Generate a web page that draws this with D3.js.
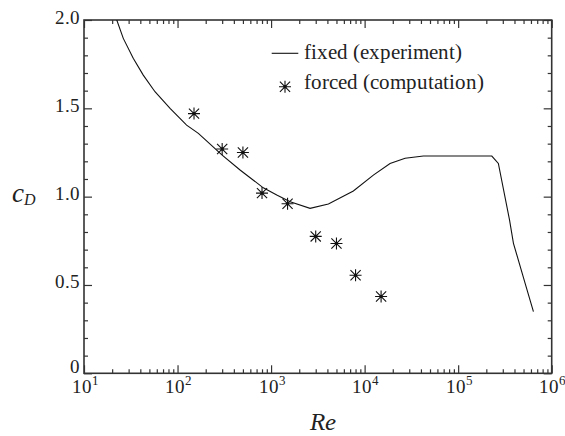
<!DOCTYPE html>
<html>
<head>
<meta charset="utf-8">
<script src="https://cdn.jsdelivr.net/npm/d3@7"></script>
<style>
	@font-face { font-family: 'FigSerif'; font-style: normal; src: local('Liberation Serif'), local('LiberationSerif'); }
	@font-face { font-family: 'FigSerif'; font-style: italic; src: local('Liberation Serif Italic'), local('LiberationSerif-Italic'); }
</style>
</head>
<body style="margin:0">
<div id="fig"></div>
<script>
// fixed cylinder, experiment (Re, cD)
const fixedRe = [22.4, 26.3, 33.6, 43, 57.4, 83.2, 125, 167, 300, 466, 826, 1150, 1600, 2610, 4100, 7580, 12400, 18700, 27100, 42500, 229000, 269000, 354000, 390000, 520000, 638000];
const fixedCd = [2.0, 1.896, 1.783, 1.688, 1.594, 1.5, 1.405, 1.358, 1.235, 1.151, 1.05, 1.009, 0.971, 0.934, 0.958, 1.032, 1.122, 1.188, 1.217, 1.23, 1.23, 1.188, 0.868, 0.736, 0.509, 0.349];

// forced cylinder, computation
const forcedRe = [150, 300, 500, 800, 1500, 3000, 5000, 8000, 15000];
const forcedCd = [1.47, 1.27, 1.25, 1.02, 0.96, 0.775, 0.735, 0.555, 0.435];

const xMajor = [1e1, 1e2, 1e3, 1e4, 1e5, 1e6];
const yMajor = [0, 0.5, 1.0, 1.5, 2.0];
const legendLabels = ['fixed (experiment)', 'forced (computation)'];

const margin = { left: 84, right: 13.3, top: 20, bottom: 62.7 };
const W = 565, H = 436;
const fontStack = "FigSerif, 'Liberation Serif', 'Times New Roman', serif";

const svg = d3.select('#fig').append('svg').attr('width', W).attr('height', H);

const x = d3.scaleLog().domain([10, 1e6]).range([margin.left, W - margin.right]);
const y = d3.scaleLinear().domain([0, 2]).range([H - margin.bottom, margin.top]);

const xMinor = [];
xMajor.slice(0, -1).forEach((d) => {
	for (let k = 2; k <= 9; k++) xMinor.push(d * k);
});
const yMinor = d3.range(0, 2.01, 0.1).map((v) => +v.toFixed(1)).filter((v) => !yMajor.includes(v));

const frameColor = '#333';
const textColor = '#222';
const plotB = H - margin.bottom, plotT = margin.top, plotL = margin.left, plotR = W - margin.right;

// ticks only, all pointing inward (labels are drawn by hand below)
function drawTicks(axis, transform) {
	svg.append('g')
		.attr('transform', transform)
		.call(axis)
		.call((g) => g.select('.domain').remove())
		.call((g) => g.selectAll('line').attr('stroke', frameColor).attr('stroke-width', 1.2))
		.call((g) => g.selectAll('text').remove());
}

drawTicks(d3.axisBottom(x).tickValues(xMajor).tickSize(-8), `translate(0,${plotB})`);
drawTicks(d3.axisBottom(x).tickValues(xMinor).tickSize(-4), `translate(0,${plotB})`);
drawTicks(d3.axisTop(x).tickValues(xMajor).tickSize(-8), `translate(0,${plotT})`);
drawTicks(d3.axisTop(x).tickValues(xMinor).tickSize(-4), `translate(0,${plotT})`);
drawTicks(d3.axisLeft(y).tickValues(yMajor).tickSize(-8), `translate(${plotL},0)`);
drawTicks(d3.axisLeft(y).tickValues(yMinor).tickSize(-4), `translate(${plotL},0)`);
drawTicks(d3.axisRight(y).tickValues(yMajor).tickSize(-8), `translate(${plotR},0)`);
drawTicks(d3.axisRight(y).tickValues(yMinor).tickSize(-4), `translate(${plotR},0)`);

// frame
svg.append('rect')
	.attr('x', plotL).attr('y', plotT)
	.attr('width', plotR - plotL).attr('height', plotB - plotT)
	.attr('fill', 'none').attr('stroke', frameColor).attr('stroke-width', 1.6);

// y tick labels
svg.append('g').selectAll('text')
	.data(yMajor)
	.join('text')
	.attr('x', plotL - 4)
	.attr('y', (d) => y(d) + (d === 0 ? 0 : 3.5))
	.attr('text-anchor', 'end')
	.attr('font-size', 19)
	.style('font-family', fontStack)
	.attr('fill', textColor)
	.text((d) => (d === 0 ? '0' : d3.format('.1f')(d)));

// x tick labels 10^n
const xl = svg.append('g').selectAll('text')
	.data(xMajor)
	.join('text')
	.attr('x', (d) => x(d) + 1)
	.attr('y', plotB + 20)
	.attr('text-anchor', 'middle')
	.attr('font-size', 19)
	.style('font-family', fontStack)
	.attr('fill', textColor);
xl.append('tspan').text('10');
xl.append('tspan')
	.attr('font-size', 13)
	.attr('dy', -8)
	.text((d) => Math.round(Math.log10(d)));

// axis titles
svg.append('text')
	.attr('x', 323).attr('y', 430)
	.attr('text-anchor', 'middle')
	.attr('font-size', 25)
	.attr('font-style', 'italic')
	.style('font-family', fontStack)
	.attr('fill', textColor)
	.text('Re');

const cdLabel = svg.append('text')
	.attr('x', 12).attr('y', 201.7)
	.attr('font-size', 27)
	.attr('font-style', 'italic')
	.style('font-family', fontStack)
	.attr('fill', textColor);
cdLabel.append('tspan').text('c');
cdLabel.append('tspan').attr('font-size', 16).attr('dy', 3.5).text('D');

// clip for the curve
svg.append('clipPath').attr('id', 'plot-clip')
	.append('rect')
	.attr('x', plotL).attr('y', plotT)
	.attr('width', plotR - plotL).attr('height', plotB - plotT);

const fixedData = fixedRe.map((re, i) => ({ re, cd: fixedCd[i] }));
const forcedData = forcedRe.map((re, i) => ({ re, cd: forcedCd[i] }));

const line = d3.line()
	.x((d) => x(d.re))
	.y((d) => y(d.cd));

svg.append('path')
	.datum(fixedData)
	.attr('clip-path', 'url(#plot-clip)')
	.attr('d', line)
	.attr('fill', 'none')
	.attr('stroke', '#111')
	.attr('stroke-width', 1.1);

// asterisk marker: vertical stroke + two diagonals + horizontal
function star(g, size) {
	const r = size / 2, a = r * 0.85;
	g.append('path')
		.attr('d', `M0,${-r}V${r}M${-a},${-a}L${a},${a}M${-a},${a}L${a},${-a}M${-r},0H${r}`)
		.attr('stroke', '#111')
		.attr('stroke-width', 1.1)
		.attr('fill', 'none');
	g.append('circle').attr('r', 1.6).attr('fill', '#111');
}

svg.append('g').selectAll('g')
	.data(forcedData)
	.join('g')
	.attr('transform', (d) => `translate(${x(d.re)},${y(d.cd)})`)
	.each(function () {
		star(d3.select(this), 12);
	});

// legend
const legend = svg.append('g');
legend.append('line')
	.attr('x1', 271.7).attr('x2', 298.3)
	.attr('y1', 53.3).attr('y2', 53.3)
	.attr('stroke', '#111').attr('stroke-width', 1.1);
star(legend.append('g').attr('transform', 'translate(285,86.7)'), 12);
legend.selectAll('text')
	.data(legendLabels)
	.join('text')
	.attr('x', 304.3)
	.attr('y', (d, i) => 58.5 + i * 30)
	.attr('font-size', 20.5)
	.style('font-family', fontStack)
	.attr('fill', textColor)
	.text((d) => d);
</script>
</body>
</html>
